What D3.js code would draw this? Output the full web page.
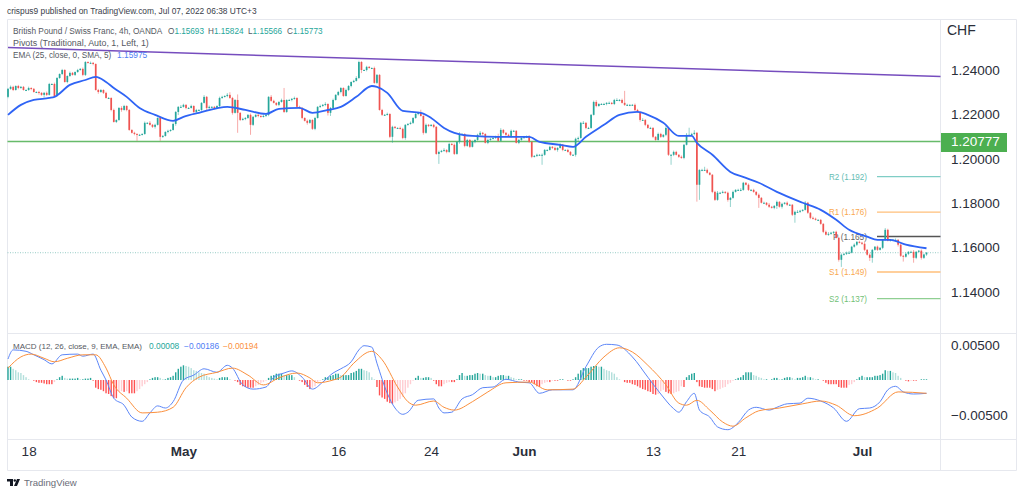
<!DOCTYPE html>
<html>
<head>
<meta charset="utf-8">
<script src="https://cdn.jsdelivr.net/npm/d3@7"></script>
<style>
  html, body { margin: 0; padding: 0; background: #fff; }
  svg { display: block; font-family: "Liberation Sans", Arial, sans-serif; }
  .tick text { fill: #2a2e39; }
</style>
</head>
<body>
<svg id="chart" width="1024" height="495"></svg>
<script>
// GBP/CHF 4h candles. open = previous close
var FIRST_OPEN = 1.2279;
var closes = [
  1.2315,1.2324,1.2310,1.2328,1.2319,1.2324,1.2310,1.2310,1.2319,1.2315,
  1.2301,1.2301,1.2297,1.2288,1.2297,1.2288,1.2337,1.2337,1.2283,1.2364,
  1.2382,1.2400,1.2346,1.2373,1.2387,1.2378,1.2391,1.2400,1.2405,1.2378,
  1.2436,1.2432,1.2432,1.2427,1.2310,1.2301,1.2310,1.2297,1.2274,1.2274,
  1.2220,1.2166,1.2175,1.2229,1.2220,1.2238,1.2220,1.2130,1.2117,1.2112,
  1.2108,1.2108,1.2112,1.2162,1.2162,1.2153,1.2144,1.2153,1.2184,1.2099,
  1.2103,1.2121,1.2126,1.2130,1.2157,1.2211,1.2234,1.2234,1.2243,1.2229,
  1.2229,1.2238,1.2211,1.2220,1.2220,1.2252,1.2279,1.2229,1.2234,1.2234,
  1.2229,1.2238,1.2274,1.2279,1.2283,1.2288,1.2274,1.2207,1.2265,1.2207,
  1.2175,1.2180,1.2184,1.2198,1.2153,1.2189,1.2198,1.2193,1.2189,1.2193,
  1.2198,1.2279,1.2261,1.2252,1.2243,1.2256,1.2265,1.2211,1.2265,1.2265,
  1.2270,1.2274,1.2234,1.2229,1.2184,1.2171,1.2162,1.2175,1.2135,1.2184,
  1.2234,1.2238,1.2243,1.2247,1.2207,1.2229,1.2265,1.2288,1.2301,1.2319,
  1.2283,1.2310,1.2328,1.2346,1.2351,1.2364,1.2436,1.2400,1.2400,1.2414,
  1.2409,1.2409,1.2342,1.2378,1.2220,1.2198,1.2198,1.2202,1.2099,1.2144,
  1.2139,1.2139,1.2135,1.2094,1.2153,1.2157,1.2162,1.2184,1.2202,1.2207,
  1.2193,1.2117,1.2153,1.2148,1.2153,1.2144,1.2022,1.2031,1.2036,1.2040,
  1.2031,1.2067,1.2063,1.2022,1.2076,1.2112,1.2112,1.2058,1.2085,1.2054,
  1.2076,1.2085,1.2108,1.2117,1.2112,1.2072,1.2085,1.2090,1.2094,1.2099,
  1.2081,1.2130,1.2117,1.2108,1.2103,1.2126,1.2126,1.2072,1.2085,1.2094,
  1.2099,1.2099,1.2076,1.2009,1.2013,1.2018,1.2018,1.2018,1.2040,1.2040,
  1.2054,1.2049,1.2040,1.2049,1.2063,1.2040,1.2040,1.2031,1.2018,1.2018,
  1.2090,1.2094,1.2162,1.2162,1.2139,1.2139,1.2198,1.2256,1.2238,1.2247,
  1.2247,1.2247,1.2252,1.2252,1.2247,1.2265,1.2265,1.2265,1.2252,1.2243,
  1.2243,1.2243,1.2243,1.2220,1.2211,1.2175,1.2175,1.2153,1.2139,1.2139,
  1.2099,1.2085,1.2112,1.2099,1.2108,1.2139,1.2018,1.2018,1.2031,1.2018,
  1.2009,1.2004,1.2063,1.2108,1.2108,1.2112,1.2117,1.1883,1.1950,1.1950,
  1.1950,1.1937,1.1928,1.1851,1.1815,1.1847,1.1847,1.1851,1.1847,1.1815,
  1.1824,1.1851,1.1860,1.1860,1.1860,1.1892,1.1883,1.1860,1.1860,1.1851,
  1.1838,1.1824,1.1802,1.1802,1.1793,1.1784,1.1779,1.1788,1.1806,1.1784,
  1.1797,1.1802,1.1793,1.1793,1.1748,1.1761,1.1761,1.1766,1.1770,1.1802,
  1.1757,1.1734,1.1730,1.1725,1.1725,1.1707,1.1671,1.1658,1.1662,1.1667,
  1.1671,1.1644,1.1545,1.1568,1.1572,1.1577,1.1577,1.1604,1.1613,1.1626,
  1.1622,1.1617,1.1590,1.1568,1.1554,1.1590,1.1604,1.1590,1.1599,1.1635,
  1.1680,1.1631,1.1635,1.1635,1.1635,1.1613,1.1563,1.1559,1.1572,1.1581,
  1.1581,1.1554,1.1581,1.1586,1.1554,1.1569,1.1577
];

// wick length above / below the body, in pips
var wickUp = [
  4,6,5,3,5,4,4,3,6,3, 4,3,5,3,4,6,5,3,6,4, 3,5,4,3,6,4,3,5,4,6, 4,3,6,4,3,5,4,3,5,4,
  3,6,3,4,8,5,3,4,3,5, 3,4,3,6,3,8,4,5,3,6, 4,3,5,3,6,4,3,8,5,3, 4,6,3,5,4,3,8,4,6,3,
  4,3,6,5,3,8,12,5,4,25, 3,5,4,3,6,4,3,5,3,6, 4,3,8,5,3,4,6,54,3,5, 4,6,3,5,4,3,6,4,3,5,
  3,6,4,8,3,4,6,3,5,4, 3,6,4,3,5,8,6,4,3,5, 4,3,6,4,3,5,4,6,3,5, 4,3,6,5,3,4,6,3,8,5,
  14,3,6,4,3,5,3,6,4,8, 3,5,4,6,3,8,4,3,5,4, 6,3,5,8,4,3,6,4,3,5, 14,8,4,3,5,6,4,3,5,3,
  4,6,8,3,4,5,3,6,4,3, 5,4,6,3,8,4,3,5,4,3, 5,6,4,8,3,5,4,6,8,3, 4,5,3,6,4,5,8,4,6,54,
  5,3,4,6,5,3,8,4,3,5, 4,3,6,5,3,8,4,3,6,5, 3,6,4,8,32,5,12,4,3,5, 14,6,4,3,5,8,4,6,3,5,
  4,6,3,5,8,4,3,6,4,5, 3,6,4,5,3,8,4,3,6,4, 5,3,6,4,3,5,8,4,3,8, 4,3,6,5,3,4,3,6,8,4,
  3,5,4,6,3,5,8,4,6,3, 5,4,8,3,6,4,3,5,3,4, 8,5,3,4,6,3,5,4,6,3, 5,8,4,3,6,4,3
];
var wickDown = [
  6,4,5,3,6,4,3,5,4,6, 3,5,8,4,12,5,3,4,6,3, 4,5,3,6,4,3,5,4,3,6, 5,3,4,6,3,8,4,5,3,4,
  6,3,5,4,8,3,6,4,3,6, 27,5,3,4,6,3,5,8,3,18, 5,3,6,4,3,8,14,5,3,6, 4,3,6,5,3,4,3,14,5,4,
  6,3,5,4,3,6,4,8,3,90, 5,3,6,4,45,5,3,6,4,3, 5,6,4,3,5,6,3,5,4,3, 6,4,3,5,6,3,8,4,5,6,
  3,5,4,6,12,14,4,3,5,6, 4,3,5,6,4,3,5,14,4,6, 3,5,4,6,3,5,4,3,6,27, 4,5,3,6,8,4,3,5,4,6,
  3,8,4,5,3,6,4,45,3,5, 6,4,3,5,4,8,3,6,4,5, 3,6,4,5,8,3,6,4,3,5, 4,3,6,5,3,8,4,3,6,4,
  5,3,4,6,3,5,3,45,4,6, 3,5,4,8,3,6,4,3,5,4, 8,12,4,3,6,5,4,3,6,4, 3,5,6,4,3,5,4,6,3,5,
  4,6,3,5,4,8,3,6,4,5, 6,4,3,5,4,6,5,45,6,3, 5,4,6,3,5,4,6,76,68,6, 5,4,3,6,5,4,6,3,5,8,
  32,4,3,5,6,4,3,5,6,4, 5,45,3,6,4,5,3,6,14,4, 8,3,5,4,6,36,3,5,4,3, 5,6,4,3,5,4,6,3,5,4,
  6,3,8,32,4,5,6,3,4,6, 3,5,6,4,14,22,4,5,3,6, 5,3,4,6,3,8,5,22,4,6, 3,22,6,4,8,5,6
];

// EMA(25) smoothed, read at these bars
var emaBars = [0,5,10,16,18,24,30,34,38,41,46,51,57,64,68,74,85,92,100,105,113,118,124,129,135,141,143,147,153,160,164,169,173,180,190,202,206,214,219,224,231,237,244,248,254,260,265,267,273,280,286,291,298,308,315,321,326,333,337,342,348,356];
var emaValues = [1.2198,1.2243,1.2265,1.2274,1.2279,1.2333,1.2355,1.2369,1.2346,1.2319,1.2279,1.2229,1.2198,1.2171,1.2189,1.2207,1.2234,1.2220,1.2202,1.2225,1.2229,1.2207,1.2220,1.2234,1.2279,1.2328,1.2324,1.2297,1.2216,1.2207,1.2184,1.2139,1.2117,1.2103,1.2099,1.2099,1.2076,1.2063,1.2054,1.2099,1.2153,1.2198,1.2211,1.2198,1.2162,1.2103,1.2103,1.2072,1.2018,1.1941,1.1914,1.1892,1.1851,1.1802,1.1770,1.1725,1.1680,1.1649,1.1635,1.1635,1.1613,1.1597];

// MACD pane
var macdBars = [0,2,7,10,14,17,21,27,29,33,36,38,41,45,48,52,55,58,61,64,68,72,76,81,85,87,91,95,100,103,107,110,114,118,122,126,129,133,136,138,141,143,147,150,153,155,159,165,167,169,172,176,180,184,188,193,198,202,206,211,219,224,229,232,236,242,248,253,258,260,263,266,268,272,275,279,283,287,290,295,298,302,307,310,315,320,325,330,334,338,341,344,347,351,356];
var macdValues = [0.0030,0.0043,0.0041,0.0036,0.0029,0.0023,0.0036,0.0037,0.0034,0.0037,0.0014,0,-0.0026,-0.0036,-0.0053,-0.0059,-0.0047,-0.0037,-0.0040,-0.0031,0,0.0007,0.0016,0.0011,0.0021,0.0017,-0.0007,-0.0013,-0.0010,0.0004,0.0010,0.0013,0.0004,-0.0013,-0.0003,0.0010,0.0016,0.0026,0.0043,0.0049,0.0047,0.0024,-0.0019,-0.0040,-0.0049,-0.0046,-0.0029,-0.0027,-0.0040,-0.0047,-0.0046,-0.0027,-0.0021,-0.0011,-0.0010,0.0001,-0.0003,-0.0004,-0.0019,-0.0014,-0.0014,0.0019,0.0047,0.0051,0.0050,0.0033,0.0004,-0.0020,-0.0041,-0.0046,-0.0031,-0.0019,-0.0043,-0.0053,-0.0067,-0.0071,-0.0061,-0.0043,-0.0039,-0.0043,-0.0039,-0.0034,-0.0033,-0.0026,-0.0030,-0.0040,-0.0059,-0.0041,-0.0040,-0.0031,-0.0014,-0.0009,-0.0017,-0.0020,-0.0019];
var signalBars = [0,5,9,14,18,23,29,34,38,41,46,52,58,64,69,74,81,87,93,99,105,112,117,120,126,129,134,141,145,151,155,158,165,169,173,180,186,193,202,209,219,224,231,237,242,248,255,260,263,267,272,277,281,286,291,299,308,315,321,328,337,345,356];
var signalValues = [0.0017,0.0033,0.0037,0.0031,0.0026,0.0031,0.0036,0.0036,0.0017,-0.0007,-0.0026,-0.0047,-0.0046,-0.0039,-0.0011,0.0004,0.0011,0.0017,0.0007,-0.0007,0.0003,0.0010,0.0003,-0.0004,0,0.0004,0.0024,0.0041,0.0029,-0.0010,-0.0031,-0.0036,-0.0030,-0.0039,-0.0043,-0.0031,-0.0017,-0.0004,-0.0003,-0.0014,-0.0013,0.0004,0.0033,0.0046,0.0040,0.0021,-0.0007,-0.0033,-0.0036,-0.0029,-0.0043,-0.0060,-0.0066,-0.0054,-0.0044,-0.0040,-0.0034,-0.0030,-0.0036,-0.0051,-0.0040,-0.0017,-0.0019];

// histogram, in units of 0.0001
var histogram = [
  19,19,16,14,11,10,7,4,1,0, -1,-3,-4,-4,-5,-6,-6,-6,-3,1, 4,6,3,2,2,2,2,3,1,1, 2,2,3,-1,-11,-13,-14,-16,-19,-20,
  -23,-26,-26,-17,-16,-17,-16,-19,-19,-19, -16,-13,-9,-6,-3,1,3,4,4,3, 1,1,3,4,6,11,16,19,21,20, 19,17,14,13,11,10,9,6,4,3,
  2,1,3,4,4,4,1,0,-1,-3, -7,-9,-10,-11,-11,-11,-9,-7,-4,-3, -1,3,6,7,9,9,9,7,7,7, 7,4,0,-1,-3,-7,-10,-13,-11,-9,
  -3,-1,1,4,4,6,7,9,9,7, 7,7,7,10,11,13,16,16,14,13, 11,4,1,-10,-22,-25,-27,-31,-33,-34, -32,-30,-27,-24,-19,-11,-6,-1,3,6,
  3,3,4,4,3,-1,-6,-9,-9,-6, -4,-3,-3,-3,1,7,10,6,6,7, 7,9,10,9,9,7,6,6,4,4, 6,7,7,6,6,4,3,1,1,1,
  -1,-1,-3,-3,-6,-9,-10,-6,-4,-3, -3,-1,-1,-1,1,1,0,-1,-1,1, 4,9,14,17,17,17,19,20,20,19, 19,16,14,13,11,9,4,1,0,-3,
  -4,-4,-6,-7,-9,-11,-13,-14,-16,-17, -20,-21,-20,-16,-14,-17,-19,-20,-19,-17, -16,-9,-10,4,7,9,10,-3,-9,-10, -11,-11,-11,-13,-16,-14,-13,-11,-10,-6,
  -4,-1,1,3,4,7,11,11,11,7, 6,4,3,1,1,0,1,3,3,1, 1,3,4,4,3,1,3,3,4,6, 4,4,3,1,1,0,-1,-4,-6,-6,
  -6,-6,-10,-11,-11,-11,-7,-6,-3,1, 4,6,4,4,4,4,6,6,7,9, 14,13,13,11,10,6,3,0,-1,-2, -1,-1,-1,0,1,1,1
];

// levels
var SUPPORT = 1.20777;
var trendBars = [0, 362];
var trendValues = [1.2501, 1.2371];
var pivotNames = ["R2", "R1", "P", "S1", "S2"];
var pivotValues = [1.192, 1.176, 1.165, 1.149, 1.137];
var pivotColors = ["#7fcdc5", "#ffbf7a", "#555", "#ffbf7a", "#8fcf92"];
var pivotTextColors = ["#63bdb3", "#f9a84f", "#666", "#f9a84f", "#72bf76"];

// axis labels
var priceTicks = [1.24, 1.22, 1.20, 1.18, 1.16, 1.14];
var macdTicks = [0.005, -0.005];
var timeBars = [8, 68, 128, 164, 200, 250, 283, 331];
var timeLabels = ["18", "May", "16", "24", "Jun", "13", "21", "Jul"];

// header values
var ohlcNames = ["O", "H", "L", "C"];
var ohlcValues = ["1.15693", "1.15824", "1.15566", "1.15773"];

var UP = "#26a69a", DOWN = "#ef5350", LEGEND = "#555962";
var AXIS_X = 940.5, LEFT = 7.5, RIGHT = 1016.5;

var svg = d3.select("#chart");

var x = d3.scaleLinear().domain([0, 356]).range([8, 926.5]);
var y = d3.scaleLinear().domain([1.24, 1.14]).range([70, 292]);
var yMacd = d3.scaleLinear().domain([0.005, -0.005]).range([345, 415]);

var bars = closes.map(function(c, i) {
  var o = i == 0 ? FIRST_OPEN : closes[i-1];
  return {
    i: i, o: o, c: c,
    h: Math.max(o, c) + wickUp[i] / 10000,
    l: Math.min(o, c) - wickDown[i] / 10000
  };
});

// frame
var frame = [[LEFT, 19.5, RIGHT, 19.5], [LEFT, 333.5, RIGHT, 333.5], [LEFT, 439.5, RIGHT, 439.5],
             [LEFT, 470.5, RIGHT, 470.5], [LEFT, 19.5, LEFT, 470.5], [AXIS_X, 19.5, AXIS_X, 470.5],
             [RIGHT, 19.5, RIGHT, 470.5]];
svg.append("g").selectAll("line").data(frame).enter().append("line")
  .attr("x1", function(d) { return d[0]; }).attr("y1", function(d) { return d[1]; })
  .attr("x2", function(d) { return d[2]; }).attr("y2", function(d) { return d[3]; })
  .attr("stroke", "#e6e8ee").attr("stroke-width", 1);

// trend line and support
svg.append("clipPath").attr("id", "pane").append("rect")
  .attr("x", LEFT).attr("y", 19).attr("width", AXIS_X - LEFT).attr("height", 314);
svg.append("line")
  .attr("clip-path", "url(#pane)")
  .attr("x1", x(trendBars[0])).attr("y1", y(trendValues[0]))
  .attr("x2", x(trendBars[1])).attr("y2", y(trendValues[1]))
  .attr("stroke", "#673ab7").attr("stroke-width", 1.5).attr("stroke-opacity", 0.9);
svg.append("line")
  .attr("x1", LEFT).attr("x2", AXIS_X)
  .attr("y1", y(SUPPORT)).attr("y2", y(SUPPORT))
  .attr("stroke", "#4caf50").attr("stroke-width", 1.5).attr("stroke-opacity", 0.85);

// last price line
svg.append("line")
  .attr("x1", LEFT).attr("x2", AXIS_X)
  .attr("y1", y(closes[closes.length-1])).attr("y2", y(closes[closes.length-1]))
  .attr("stroke", "#7fbfb8").attr("stroke-width", 0.8).attr("stroke-dasharray", "1 1.5");

// pivots
var pivots = svg.append("g").selectAll("g").data(pivotNames).enter().append("g");
pivots.append("line")
  .attr("x1", 877).attr("x2", AXIS_X)
  .attr("y1", function(d, i) { return y(pivotValues[i]); })
  .attr("y2", function(d, i) { return y(pivotValues[i]); })
  .attr("stroke", function(d, i) { return pivotColors[i]; })
  .attr("stroke-width", 1.3);

// candles
var candles = svg.append("g").selectAll("g").data(bars).enter().append("g");
candles.append("line")
  .attr("x1", function(d) { return x(d.i); }).attr("x2", function(d) { return x(d.i); })
  .attr("y1", function(d) { return y(d.h); }).attr("y2", function(d) { return y(d.l); })
  .attr("stroke", function(d) { return d.c >= d.o ? UP : DOWN; })
  .attr("stroke-opacity", 0.55).attr("stroke-width", 0.9);
candles.append("rect")
  .attr("x", function(d) { return x(d.i) - 0.85; }).attr("width", 1.7)
  .attr("y", function(d) { return y(Math.max(d.o, d.c)); })
  .attr("height", function(d) { return Math.max(1, Math.abs(y(d.o) - y(d.c))); })
  .attr("fill", function(d) { return d.c >= d.o ? UP : DOWN; });

// EMA
var emaLine = d3.line()
  .x(function(d) { return x(d); })
  .y(function(d, i) { return y(emaValues[i]); })
  .curve(d3.curveMonotoneX);
svg.append("path").datum(emaBars).attr("d", emaLine)
  .attr("fill", "none").attr("stroke", "#2f64f5").attr("stroke-width", 1.8);

// pivot labels sit over the candles
pivots.append("text")
  .attr("x", function(d) { return d == "P" ? 833 : 829; })
  .attr("y", function(d, i) { return y(pivotValues[i]) + 3; })
  .attr("font-size", 9.2)
  .attr("textLength", function(d) { return d == "P" ? 34 : 38; })
  .attr("lengthAdjust", "spacingAndGlyphs")
  .attr("fill", function(d, i) { return pivotTextColors[i]; })
  .text(function(d, i) { return d + " (" + pivotValues[i].toFixed(3) + ")"; });

// MACD histogram
svg.append("g").selectAll("rect").data(histogram).enter().append("rect")
  .attr("x", function(d, i) { return x(i) - 0.7; }).attr("width", 1.4)
  .attr("y", function(d) { return yMacd(Math.max(d, 0) / 10000); })
  .attr("height", function(d) { return Math.abs(yMacd(0) - yMacd(d / 10000)); })
  .attr("fill", function(d, i) {
    var prev = i == 0 ? d : histogram[i-1];
    if (d >= 0) return d >= prev ? UP : "#b2dfdb";
    return d <= prev ? "#ff5252" : "#ffcdd2";
  });

var macdLine = d3.line()
  .x(function(d) { return x(d); })
  .y(function(d, i) { return yMacd(macdValues[i]); })
  .curve(d3.curveMonotoneX);
var signalLine = d3.line()
  .x(function(d) { return x(d); })
  .y(function(d, i) { return yMacd(signalValues[i]); })
  .curve(d3.curveMonotoneX);
svg.append("path").datum(macdBars).attr("d", macdLine)
  .attr("fill", "none").attr("stroke", "#5c86f8").attr("stroke-width", 1);
svg.append("path").datum(signalBars).attr("d", signalLine)
  .attr("fill", "none").attr("stroke", "#fb8f3c").attr("stroke-width", 1);

// axes
var priceAxis = d3.axisRight(y).tickValues(priceTicks).tickSize(0).tickPadding(0)
  .tickFormat(function(d) { return d.toFixed(5); });
var macdAxis = d3.axisRight(yMacd).tickValues(macdTicks).tickSize(0).tickPadding(0)
  .tickFormat(function(d) { return d.toFixed(5).replace("-", "\u2212"); });
var timeAxis = d3.axisBottom(x).tickValues(timeBars).tickSize(0).tickPadding(0)
  .tickFormat(function(d, i) { return timeLabels[i]; });

var gPrice = svg.append("g").attr("transform", "translate(951,0)").call(priceAxis);
var gMacd = svg.append("g").attr("transform", "translate(951,0)").call(macdAxis);
var gTime = svg.append("g").attr("transform", "translate(0,446)").call(timeAxis);
[gPrice, gMacd, gTime].forEach(function(g) {
  g.select(".domain").remove();
  g.selectAll("text").attr("font-size", 13.5).attr("font-family", "'Liberation Sans', Arial, sans-serif");
});
gTime.selectAll("text").filter(function(d, i) { return timeLabels[i].length == 3; }).attr("font-weight", 600);

svg.append("text").attr("x", 947).attr("y", 35).attr("font-size", 14).attr("fill", "#2a2e39").text("CHF");

// current price tag
svg.append("rect").attr("x", 941).attr("y", 133).attr("width", 66).attr("height", 19).attr("fill", "#4caf50");
svg.append("text").attr("x", 951).attr("y", y(SUPPORT) + 4.8)
  .attr("font-size", 13.5).attr("fill", "#fff").text(SUPPORT.toFixed(5));

// legend texts: x, baseline, text, colour, font size
var texts = [
  [7, 14, "crispus9 published on TradingView.com, Jul 07, 2022 06:38 UTC+3", "#3a3e4a", 8.4],
  [13, 34, "British Pound / Swiss Franc, 4h, OANDA", LEGEND, 8.3],
  [13, 46, "Pivots (Traditional, Auto, 1, Left, 1)", LEGEND, 8.9],
  [13, 58, "EMA (25, close, 0, SMA, 5)", LEGEND, 8.2],
  [117, 58, "1.15975", "#4f7df5", 8.4],
  [13, 348.5, "MACD (12, 26, close, 9, EMA, EMA)", LEGEND, 8],
  [149, 348.5, "0.00008", UP, 8.4],
  [184, 348.5, "\u22120.00186", "#4f7df5", 8.4],
  [223, 348.5, "\u22120.00194", "#fb8f3c", 8.4],
  [24, 486, "TradingView", "#6a6d78", 9.6]
];
svg.append("g").selectAll("text").data(texts).enter().append("text")
  .attr("x", function(d) { return d[0]; })
  .attr("y", function(d) { return d[1]; })
  .attr("font-size", function(d) { return d[4]; })
  .attr("fill", function(d) { return d[3]; })
  .text(function(d) { return d[2]; });

// O H L C in the header, letter and value as one text
var ohlcX = [168, 208, 248, 287];
var ohlc = svg.append("g").selectAll("text").data(ohlcNames).enter().append("text")
  .attr("x", function(d, i) { return ohlcX[i]; })
  .attr("y", 34).attr("font-size", 8.2);
ohlc.append("tspan").attr("fill", LEGEND).text(function(d) { return d; });
ohlc.append("tspan").attr("fill", UP).text(function(d, i) { return ohlcValues[i]; });

// TradingView mark
svg.append("path")
  .attr("d", "M7 479h6v7h-3v-4.5h-3z M14 486l3-7h3l-3 7z")
  .attr("fill", "#131722");
svg.append("circle").attr("cx", 14.8).attr("cy", 480.5).attr("r", 1.2).attr("fill", "#131722");
</script>
</body>
</html>
